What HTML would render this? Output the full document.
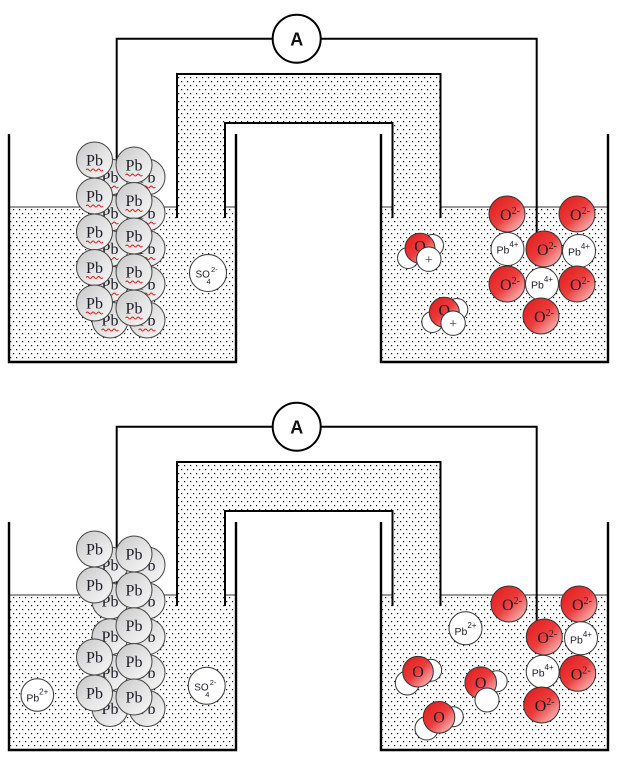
<!DOCTYPE html>
<html><head><meta charset="utf-8"><style>
html,body{margin:0;padding:0;background:#fff;}
svg{display:block}
.pb{font-family:"Liberation Serif",serif;font-size:16px;text-anchor:middle;fill:#1c1c28}
.sq{fill:none;stroke:#e01010;stroke-width:0.9}
.o{font-family:"Liberation Serif",serif;font-size:16px;text-anchor:middle;fill:#1c1c28}
.ion{font-family:"Liberation Sans",sans-serif;font-size:10.5px;text-anchor:middle;fill:#1c1c28}
.s{font-family:"Liberation Sans",sans-serif;fill:#1c1c28}
.pl{font-family:"Liberation Serif",serif;font-size:14px;text-anchor:middle;fill:#333}
.w{fill:#fff;stroke:#333;stroke-width:1}
.ga{fill:url(#g);stroke:#444;stroke-width:1}
.ra{fill:url(#r);stroke:#333;stroke-width:1}
</style></head><body>
<svg width="620" height="762" viewBox="0 0 620 762" xmlns="http://www.w3.org/2000/svg">
<defs>
<pattern id="d" width="6" height="8" patternUnits="userSpaceOnUse"><rect x="1" y="1" width="1.2" height="1.2" fill="#000"/><rect x="4" y="5" width="1.2" height="1.2" fill="#000"/></pattern>
<linearGradient id="g" x1="0" y1="0" x2="1" y2="1"><stop offset="0" stop-color="#c6c6c6"/><stop offset="0.5" stop-color="#e2e2e2"/><stop offset="1" stop-color="#f8f8f8"/></linearGradient>
<linearGradient id="r" x1="0" y1="0" x2="1" y2="1"><stop offset="0" stop-color="#e01818"/><stop offset="0.5" stop-color="#ec3c3c"/><stop offset="0.85" stop-color="#f7a8a8"/><stop offset="1" stop-color="#fde8e8"/></linearGradient>
</defs>

<!-- FRAME TOP -->
<g>
<rect x="9" y="207" width="227" height="155" fill="url(#d)"/>
<rect x="381" y="207" width="227" height="155" fill="url(#d)"/>
<path d="M9,207H236M381,207H608" stroke="#333" stroke-width="1"/>
<path d="M177,218V74H440.5V218H392.5V123H225V218Z" fill="#fff"/>
<path d="M177,218V74H440.5V218H392.5V123H225V218Z" fill="url(#d)"/>
<path d="M177,218V74H440.5V218M225,218V123H392.5V218" fill="none" stroke="#000" stroke-width="2"/>
<path d="M9,134V362H236V134M381,134V362H608V134" fill="none" stroke="#000" stroke-width="2.4"/>
<path d="M116.7,220V38.7H536.7V240" fill="none" stroke="#000" stroke-width="2"/>
<circle cx="296.7" cy="38.7" r="24" fill="#fff" stroke="#000" stroke-width="2"/>
<text x="296.7" y="45.3" text-anchor="middle" font-family="Liberation Sans, sans-serif" font-weight="bold" font-size="18" fill="#111">A</text>
</g>
<!-- FRAME BOTTOM -->
<g transform="translate(0,388)">
<rect x="9" y="207" width="227" height="155" fill="url(#d)"/>
<rect x="381" y="207" width="227" height="155" fill="url(#d)"/>
<path d="M9,207H236M381,207H608" stroke="#333" stroke-width="1"/>
<path d="M177,218V74H440.5V218H392.5V123H225V218Z" fill="#fff"/>
<path d="M177,218V74H440.5V218H392.5V123H225V218Z" fill="url(#d)"/>
<path d="M177,218V74H440.5V218M225,218V123H392.5V218" fill="none" stroke="#000" stroke-width="2"/>
<path d="M9,134V362H236V134M381,134V362H608V134" fill="none" stroke="#000" stroke-width="2.4"/>
<path d="M116.7,220V38.7H536.7V240" fill="none" stroke="#000" stroke-width="2"/>
<circle cx="296.7" cy="38.7" r="24" fill="#fff" stroke="#000" stroke-width="2"/>
<text x="296.7" y="45.3" text-anchor="middle" font-family="Liberation Sans, sans-serif" font-weight="bold" font-size="18" fill="#111">A</text>
</g>

<!-- TOP Pb electrode: back col B -->
<circle class="ga" cx="147" cy="177" r="18"/><text class="pb" x="147" y="182.5">Pb</text><path class="sq" d="M138.6,187q1.4,-2 2.8,0t2.8,0t2.8,0t2.8,0t2.8,0t2.8,0"/>
<circle class="ga" cx="147" cy="213" r="18"/><text class="pb" x="147" y="218.5">Pb</text><path class="sq" d="M138.6,223q1.4,-2 2.8,0t2.8,0t2.8,0t2.8,0t2.8,0t2.8,0"/>
<circle class="ga" cx="147" cy="248.5" r="18"/><text class="pb" x="147" y="254">Pb</text><path class="sq" d="M138.6,258.5q1.4,-2 2.8,0t2.8,0t2.8,0t2.8,0t2.8,0t2.8,0"/>
<circle class="ga" cx="147" cy="284" r="18"/><text class="pb" x="147" y="289.5">Pb</text><path class="sq" d="M138.6,294q1.4,-2 2.8,0t2.8,0t2.8,0t2.8,0t2.8,0t2.8,0"/>
<circle class="ga" cx="147" cy="320" r="18"/><text class="pb" x="147" y="325.5">Pb</text><path class="sq" d="M138.6,330q1.4,-2 2.8,0t2.8,0t2.8,0t2.8,0t2.8,0t2.8,0"/>
<!-- back col A -->
<circle class="ga" cx="110" cy="177" r="18"/><text class="pb" x="110" y="182.5">Pb</text><path class="sq" d="M101.6,187q1.4,-2 2.8,0t2.8,0t2.8,0t2.8,0t2.8,0t2.8,0"/>
<circle class="ga" cx="110" cy="213" r="18"/><text class="pb" x="110" y="218.5">Pb</text><path class="sq" d="M101.6,223q1.4,-2 2.8,0t2.8,0t2.8,0t2.8,0t2.8,0t2.8,0"/>
<circle class="ga" cx="110" cy="248.5" r="18"/><text class="pb" x="110" y="254">Pb</text><path class="sq" d="M101.6,258.5q1.4,-2 2.8,0t2.8,0t2.8,0t2.8,0t2.8,0t2.8,0"/>
<circle class="ga" cx="110" cy="284" r="18"/><text class="pb" x="110" y="289.5">Pb</text><path class="sq" d="M101.6,294q1.4,-2 2.8,0t2.8,0t2.8,0t2.8,0t2.8,0t2.8,0"/>
<circle class="ga" cx="110" cy="320" r="18"/><text class="pb" x="110" y="325.5">Pb</text><path class="sq" d="M101.6,330q1.4,-2 2.8,0t2.8,0t2.8,0t2.8,0t2.8,0t2.8,0"/>
<!-- front col 1 -->
<circle class="ga" cx="94.5" cy="160" r="18"/><text class="pb" x="94.5" y="165.5">Pb</text><path class="sq" d="M86.1,170q1.4,-2 2.8,0t2.8,0t2.8,0t2.8,0t2.8,0t2.8,0"/>
<circle class="ga" cx="94.5" cy="196" r="18"/><text class="pb" x="94.5" y="201.5">Pb</text><path class="sq" d="M86.1,206q1.4,-2 2.8,0t2.8,0t2.8,0t2.8,0t2.8,0t2.8,0"/>
<circle class="ga" cx="94.5" cy="232" r="18"/><text class="pb" x="94.5" y="237.5">Pb</text><path class="sq" d="M86.1,242q1.4,-2 2.8,0t2.8,0t2.8,0t2.8,0t2.8,0t2.8,0"/>
<circle class="ga" cx="94.5" cy="267.5" r="18"/><text class="pb" x="94.5" y="273">Pb</text><path class="sq" d="M86.1,277.5q1.4,-2 2.8,0t2.8,0t2.8,0t2.8,0t2.8,0t2.8,0"/>
<circle class="ga" cx="94.5" cy="303" r="18"/><text class="pb" x="94.5" y="308.5">Pb</text><path class="sq" d="M86.1,313q1.4,-2 2.8,0t2.8,0t2.8,0t2.8,0t2.8,0t2.8,0"/>
<!-- front col 2 -->
<circle class="ga" cx="134" cy="165" r="18"/><text class="pb" x="134" y="170.5">Pb</text><path class="sq" d="M125.6,175q1.4,-2 2.8,0t2.8,0t2.8,0t2.8,0t2.8,0t2.8,0"/>
<circle class="ga" cx="134" cy="200.5" r="18"/><text class="pb" x="134" y="206">Pb</text><path class="sq" d="M125.6,210.5q1.4,-2 2.8,0t2.8,0t2.8,0t2.8,0t2.8,0t2.8,0"/>
<circle class="ga" cx="134" cy="236" r="18"/><text class="pb" x="134" y="241.5">Pb</text><path class="sq" d="M125.6,246q1.4,-2 2.8,0t2.8,0t2.8,0t2.8,0t2.8,0t2.8,0"/>
<circle class="ga" cx="134" cy="272" r="18"/><text class="pb" x="134" y="277.5">Pb</text><path class="sq" d="M125.6,282q1.4,-2 2.8,0t2.8,0t2.8,0t2.8,0t2.8,0t2.8,0"/>
<circle class="ga" cx="134" cy="308" r="18"/><text class="pb" x="134" y="313.5">Pb</text><path class="sq" d="M125.6,318q1.4,-2 2.8,0t2.8,0t2.8,0t2.8,0t2.8,0t2.8,0"/>

<!-- TOP SO4 -->
<circle class="w" cx="208" cy="273" r="18.5"/>
<text class="s" x="195.5" y="277.5" font-size="10">SO</text>
<text class="s" x="206.5" y="284" font-size="7.5">4</text>
<text class="s" x="211" y="272" font-size="7.5">2-</text>

<!-- TOP water molecules -->
<circle class="w" cx="408" cy="258" r="10.5"/>
<circle class="w" cx="432.5" cy="245.5" r="11"/>
<circle class="ra" cx="420" cy="248.3" r="15"/>
<text class="o" x="420" y="251.5">O</text>
<circle class="w" cx="428.8" cy="259.2" r="12.2"/>
<text class="pl" x="428.8" y="264">+</text>

<circle class="w" cx="432.3" cy="322" r="10.5"/>
<circle class="w" cx="456.8" cy="309.5" r="11"/>
<circle class="ra" cx="444.3" cy="312.3" r="15"/>
<text class="o" x="444.3" y="315.5">O</text>
<circle class="w" cx="453.1" cy="323.2" r="12.2"/>
<text class="pl" x="453.1" y="328">+</text>

<!-- TOP PbO2 lattice -->
<circle class="ra" cx="507" cy="214" r="18"/><text class="o" x="510" y="220">O<tspan font-size="10" dy="-6">2-</tspan></text>
<circle class="ra" cx="577" cy="214" r="18"/><text class="o" x="580" y="220">O<tspan font-size="10" dy="-6">2-</tspan></text>
<circle class="w" cx="507.5" cy="249" r="16.5"/><text class="ion" x="507.5" y="253.5">Pb<tspan font-size="8" dy="-6.5">4+</tspan></text>
<circle class="ra" cx="544" cy="249" r="18"/><text class="o" x="547" y="255">O<tspan font-size="10" dy="-6">2-</tspan></text>
<circle class="w" cx="579" cy="251" r="16.5"/><text class="ion" x="579" y="255.5">Pb<tspan font-size="8" dy="-6.5">4+</tspan></text>
<circle class="ra" cx="507" cy="284" r="18"/><text class="o" x="510" y="290">O<tspan font-size="10" dy="-6">2-</tspan></text>
<circle class="w" cx="542" cy="284" r="16.5"/><text class="ion" x="542" y="288.5">Pb<tspan font-size="8" dy="-6.5">4+</tspan></text>
<circle class="ra" cx="577" cy="284" r="18"/><text class="o" x="580" y="290">O<tspan font-size="10" dy="-6">2-</tspan></text>
<circle class="ra" cx="541" cy="316" r="18"/><text class="o" x="544" y="322">O<tspan font-size="10" dy="-6">2-</tspan></text>

<!-- BOTTOM Pb electrode: back col B -->
<circle class="ga" cx="147" cy="565" r="18"/><text class="pb" x="147" y="570.5">Pb</text>
<circle class="ga" cx="147" cy="601" r="18"/><text class="pb" x="147" y="606.5">Pb</text>
<circle class="ga" cx="147" cy="636.7" r="18"/><text class="pb" x="147" y="642.2">Pb</text>
<circle class="ga" cx="147" cy="672.5" r="18"/><text class="pb" x="147" y="678">Pb</text>
<circle class="ga" cx="147" cy="708.5" r="18"/><text class="pb" x="147" y="714">Pb</text>
<!-- back col A -->
<circle class="ga" cx="110" cy="565" r="18"/><text class="pb" x="110" y="570.5">Pb</text>
<circle class="ga" cx="110" cy="601" r="18"/><text class="pb" x="110" y="606.5">Pb</text>
<circle class="ga" cx="110" cy="636.7" r="18"/><text class="pb" x="110" y="642.2">Pb</text>
<circle class="ga" cx="110" cy="672.5" r="18"/><text class="pb" x="110" y="678">Pb</text>
<circle class="ga" cx="110" cy="708.5" r="18"/><text class="pb" x="110" y="714">Pb</text>
<!-- front col 1 -->
<circle class="ga" cx="94.5" cy="549" r="18"/><text class="pb" x="94.5" y="554.5">Pb</text>
<circle class="ga" cx="94.5" cy="585" r="18"/><text class="pb" x="94.5" y="590.5">Pb</text>
<circle class="ga" cx="94.5" cy="657" r="18"/><text class="pb" x="94.5" y="662.5">Pb</text>
<circle class="ga" cx="94.5" cy="693" r="18"/><text class="pb" x="94.5" y="698.5">Pb</text>
<!-- front col 2 -->
<circle class="ga" cx="134" cy="554" r="18"/><text class="pb" x="134" y="559.5">Pb</text>
<circle class="ga" cx="134" cy="590" r="18"/><text class="pb" x="134" y="595.5">Pb</text>
<circle class="ga" cx="134" cy="625.7" r="18"/><text class="pb" x="134" y="631.2">Pb</text>
<circle class="ga" cx="134" cy="661.5" r="18"/><text class="pb" x="134" y="667">Pb</text>
<circle class="ga" cx="134" cy="697" r="18"/><text class="pb" x="134" y="702.5">Pb</text>

<!-- BOTTOM-left ions -->
<circle class="w" cx="37.3" cy="695" r="16.3"/><text class="ion" x="37.3" y="701.5">Pb<tspan font-size="8" dy="-7">2+</tspan></text>
<circle class="w" cx="206.7" cy="685.8" r="18.5"/>
<text class="s" x="194.2" y="690.3" font-size="10">SO</text>
<text class="s" x="205.2" y="696.8" font-size="7.5">4</text>
<text class="s" x="209.7" y="684.8" font-size="7.5">2-</text>

<!-- BOTTOM-right -->
<circle class="w" cx="465.5" cy="628.3" r="16.5"/><text class="ion" x="465.5" y="634.8">Pb<tspan font-size="8" dy="-7">2+</tspan></text>

<circle class="w" cx="407.3" cy="683" r="12"/>
<circle class="w" cx="430.7" cy="670.3" r="11"/>
<circle class="ra" cx="418" cy="671.7" r="15.3"/>
<text class="o" x="418" y="677">O</text>

<circle class="w" cx="496.7" cy="681.3" r="10.5"/>
<circle class="ra" cx="480.7" cy="682.7" r="15.8"/>
<text class="o" x="480.7" y="688">O</text>
<circle class="w" cx="487" cy="700" r="12"/>

<circle class="w" cx="426.7" cy="728.3" r="11.7"/>
<circle class="w" cx="453.3" cy="716.7" r="10"/>
<circle class="ra" cx="439" cy="717.3" r="15.8"/>
<text class="o" x="439" y="722.5">O</text>

<circle class="ra" cx="509" cy="604" r="18"/><text class="o" x="512" y="610">O<tspan font-size="10" dy="-6">2-</tspan></text>
<circle class="ra" cx="579" cy="604" r="18"/><text class="o" x="582" y="610">O<tspan font-size="10" dy="-6">2-</tspan></text>
<circle class="ra" cx="544.3" cy="637" r="18"/><text class="o" x="547.3" y="643">O<tspan font-size="10" dy="-6">2-</tspan></text>
<circle class="w" cx="581" cy="638.3" r="16.5"/><text class="ion" x="581" y="643.5">Pb<tspan font-size="8" dy="-6.5">4+</tspan></text>
<circle class="w" cx="542.7" cy="671.7" r="16.5"/><text class="ion" x="542.7" y="676.5">Pb<tspan font-size="8" dy="-6.5">4+</tspan></text>
<circle class="ra" cx="577.7" cy="673.3" r="18"/><text class="o" x="580.7" y="679.3">O<tspan font-size="10" dy="-6">2-</tspan></text>
<circle class="ra" cx="541.7" cy="705" r="18"/><text class="o" x="544.7" y="711">O<tspan font-size="10" dy="-6">2-</tspan></text>
</svg>
</body></html>
